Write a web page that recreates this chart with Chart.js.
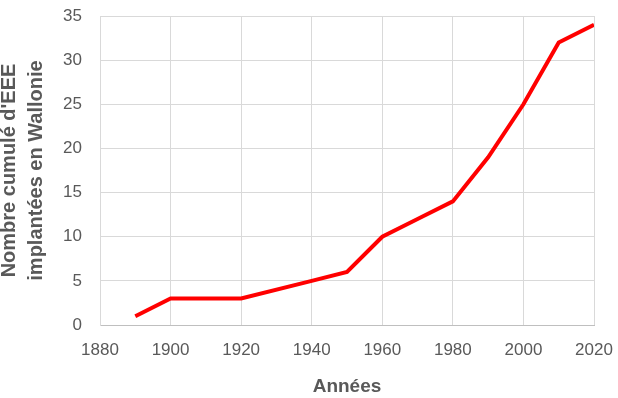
<!DOCTYPE html>
<html>
<head>
<meta charset="utf-8">
<script src="https://cdn.jsdelivr.net/npm/chart.js@4"></script>
<style>
  html, body { margin: 0; padding: 0; background: #fff; }
  #wrap { width: 618px; height: 398px; }
</style>
</head>
<body>
<div id="wrap"><canvas id="eeeChart" width="618" height="398"></canvas></div>
<script>
// annees et nombre cumule d'EEE
const years = [1890, 1900, 1920, 1940, 1950, 1960, 1970, 1980, 1990, 2000, 2010, 2020]
const cumul = [1, 3, 3, 5, 6, 10, 12, 14, 19, 25, 32, 34]
const xTitle = 'Années'
const yTitle = ["Nombre cumulé d'EEE", 'implantées en Wallonie']

const textColor = '#595959'
const gridColor = '#d9d9d9'

var ctx = document.getElementById('eeeChart')
var eeeChart = new Chart(ctx, {
    type: 'line',
    data: {
        datasets: [{
            data: years.map((y, i) => ({ x: y, y: cumul[i] })),
            borderColor: '#ff0000',
            borderWidth: 4,
            pointRadius: 0,
            tension: 0,
            fill: false
        }]
    },
    options: {
        responsive: false,
        animation: false,
        layout: { padding: { top: 16, right: 24, bottom: 0, left: 0 } },
        plugins: { legend: { display: false }, tooltip: { enabled: false } },
        scales: {
            x: {
                type: 'linear',
                min: 1880,
                max: 2020,
                ticks: {
                    stepSize: 20,
                    color: textColor,
                    padding: 15,
                    maxRotation: 0,
                    font: { family: 'Liberation Sans', size: 17 },
                    callback: v => String(v)
                },
                grid: { color: gridColor, drawTicks: false, lineWidth: 1 },
                border: { color: '#bfbfbf', width: 1 },
                title: {
                    display: true,
                    text: xTitle,
                    color: textColor,
                    padding: 0,
                    font: { family: 'Liberation Sans', size: 19, weight: 'bold' }
                },
                afterFit: s => { s.height = 73; s.paddingLeft = 0; s.paddingRight = 0 }
            },
            y: {
                min: 0,
                max: 35,
                ticks: {
                    stepSize: 5,
                    color: textColor,
                    padding: 18,
                    font: { family: 'Liberation Sans', size: 17 }
                },
                grid: { color: gridColor, drawTicks: false, lineWidth: 1 },
                border: { color: gridColor, width: 1 },
                title: {
                    display: true,
                    text: yTitle,
                    color: textColor,
                    padding: { top: -4, bottom: 0 },
                    font: { family: 'Liberation Sans', size: 20, weight: 'bold', lineHeight: '27px' }
                },
                afterFit: s => { s.width = 100; s.paddingTop = 0; s.paddingBottom = 0 }
            }
        }
    }
})
</script>
</body>
</html>
